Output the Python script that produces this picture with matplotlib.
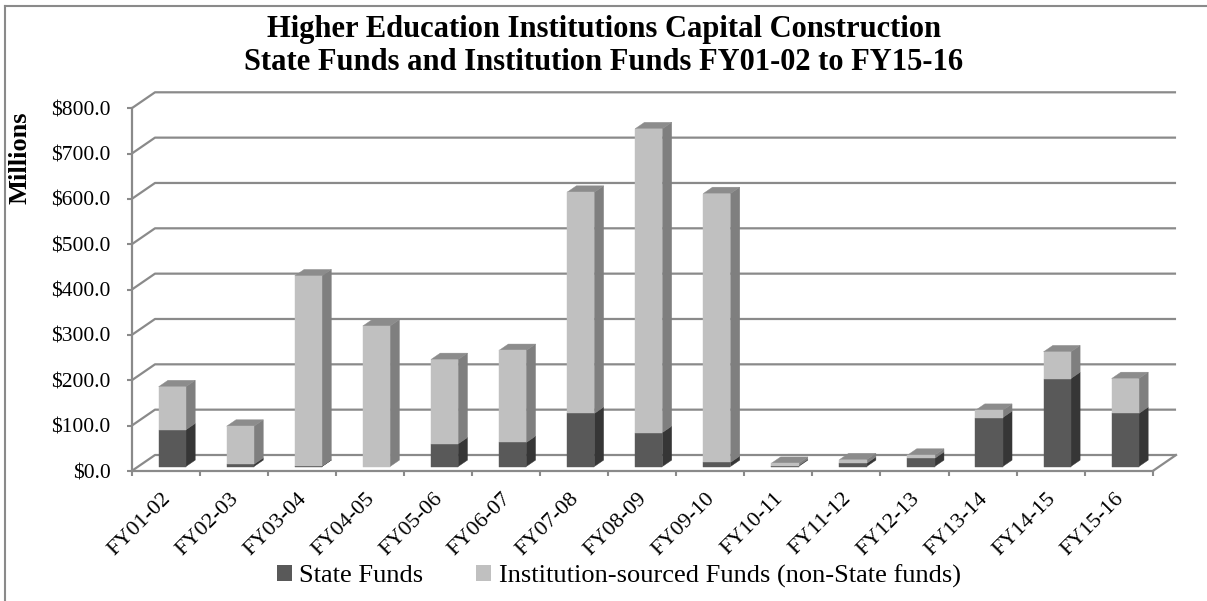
import matplotlib
matplotlib.use("Agg")
import matplotlib.pyplot as plt
from matplotlib.patches import Polygon, Patch
from matplotlib.lines import Line2D

plt.rcParams['font.family'] = ['Liberation Serif', 'DejaVu Serif']

# data (millions of dollars)
years = ["FY01-02", "FY02-03", "FY03-04", "FY04-05", "FY05-06", "FY06-07", "FY07-08",
         "FY08-09", "FY09-10", "FY10-11", "FY11-12", "FY12-13", "FY13-14", "FY14-15", "FY15-16"]
state_funds = [81, 5, 0.5, 0, 50, 53, 117, 75, 9, 2, 7, 18, 108, 194, 117]
inst_funds = [95, 84, 420, 310, 186, 203, 488, 670, 593, 5, 8, 7, 16, 59, 77]
y_ticks = [0, 100, 200, 300, 400, 500, 600, 700, 800]

W, H = 1207, 601
fig = plt.figure(figsize=(W / 100, H / 100), dpi=100)

# front plane of the fake 3d box, in pixels
x0, y0 = 131.7, 471.0
cat_px = 68.07
val_px = (471.0 - 108.3) / 800
ax = fig.add_axes([x0 / W, (H - y0) / H, 15 * cat_px / W, 800 * val_px / H])
ax.set_xlim(0, 15)
ax.set_ylim(0, 800)

grid = '#8a8a8a'
DX = 23.3 / cat_px      # depth of the box, in category units
DY = 16.0 / val_px      # depth of the box, in value units

# walls and floor
for v in y_ticks:
    ax.plot([0, DX, 15 + DX], [v, v + DY, v + DY], color=grid, lw=1.6,
            clip_on=False, zorder=1, solid_capstyle='butt')
ax.plot([15, 15 + DX], [0, DY], color=grid, lw=1.6, clip_on=False, zorder=1)

# bars
state_c = ('#595959', '#363636', '#474747')   # front, side, top
inst_c = ('#c0c0c0', '#7f7f7f', '#8c8c8c')
d0, d1 = 0.28, 0.68
ox, oy = d0 * DX, d0 * DY
bx, by = (d1 - d0) * DX, (d1 - d0) * DY


def box(i, bottom, top, cols, draw_top):
    xl, xr = i + 0.3 + ox, i + 0.7 + ox
    b, t = bottom + oy, top + oy
    side = [(xr, b), (xr + bx, b + by), (xr + bx, t + by), (xr, t)]
    ax.add_patch(Polygon(side, closed=True, fc=cols[1], ec=cols[1], lw=0.3,
                         clip_on=False, zorder=3))
    if draw_top:
        tp = [(xl, t), (xr, t), (xr + bx, t + by), (xl + bx, t + by)]
        ax.add_patch(Polygon(tp, closed=True, fc=cols[2], ec=cols[2], lw=0.3,
                             clip_on=False, zorder=3))
    front = [(xl, b), (xr, b), (xr, t), (xl, t)]
    ax.add_patch(Polygon(front, closed=True, fc=cols[0], ec=cols[0], lw=0.3,
                         clip_on=False, zorder=4))


for i in range(len(years)):
    s, n = state_funds[i], inst_funds[i]
    if s > 0:
        box(i, 0, s, state_c, n <= 0)
    if n > 0:
        box(i, s, s + n, inst_c, True)

# axes styling
for side in ('top', 'right'):
    ax.spines[side].set_visible(False)
for side in ('left', 'bottom'):
    ax.spines[side].set_color(grid)
    ax.spines[side].set_linewidth(1.6)
ax.set_facecolor('none')

ax.set_yticks(y_ticks)
ax.set_yticklabels(['${:.1f}'.format(v) for v in y_ticks])
ax.tick_params(axis='y', direction='out', length=3.6, width=1.5, color=grid,
               pad=11.5, labelsize=15.5)

ax.set_xticks(range(16))
ax.set_xticklabels([])
ax.tick_params(axis='x', which='major', direction='out', length=3.6, width=1.5, color=grid)
ax.set_xticks([i + 0.53 for i in range(15)], minor=True)
ax.set_xticklabels(years, minor=True)
ax.tick_params(axis='x', which='minor', length=0, pad=18, labelsize=16)
for lab in ax.get_xticklabels(minor=True):
    lab.set_rotation(45)
    lab.set_ha('right')
    lab.set_va('center')
    lab.set_rotation_mode('anchor')

# titles
fig.text(604 / W, 1 - 29 / H, "Higher Education Institutions Capital Construction",
         ha='center', va='center', fontsize=22, fontweight='bold')
fig.text(604 / W, 1 - 63 / H, "State Funds and Institution Funds FY01-02 to FY15-16",
         ha='center', va='center', fontsize=22, fontweight='bold')
fig.text(20 / W, 1 - 158 / H, "Millions", rotation=90, ha='center', va='center',
         fontsize=19, fontweight='bold')

# legend
handles = [Patch(fc=state_c[0], ec='none', label='State Funds'),
           Patch(fc=inst_c[0], ec='none', label='Institution-sourced Funds (non-State funds)')]
fig.legend(handles=handles, loc='center left', bbox_to_anchor=(277 / W, 25 / H), ncol=2,
           frameon=False, fontsize=19, handlelength=0.55, handleheight=0.55,
           handletextpad=0.3, columnspacing=2.0, borderpad=0, borderaxespad=0)

# chart border (left and top)
fig.add_artist(Line2D([5.4 / W, 5.4 / W], [0, 1 - 5.7 / H], color=grid, lw=1.5))
fig.add_artist(Line2D([5.4 / W, 1], [1 - 5.7 / H, 1 - 5.7 / H], color=grid, lw=1.5))

fig.savefig('out.png', dpi=100)
